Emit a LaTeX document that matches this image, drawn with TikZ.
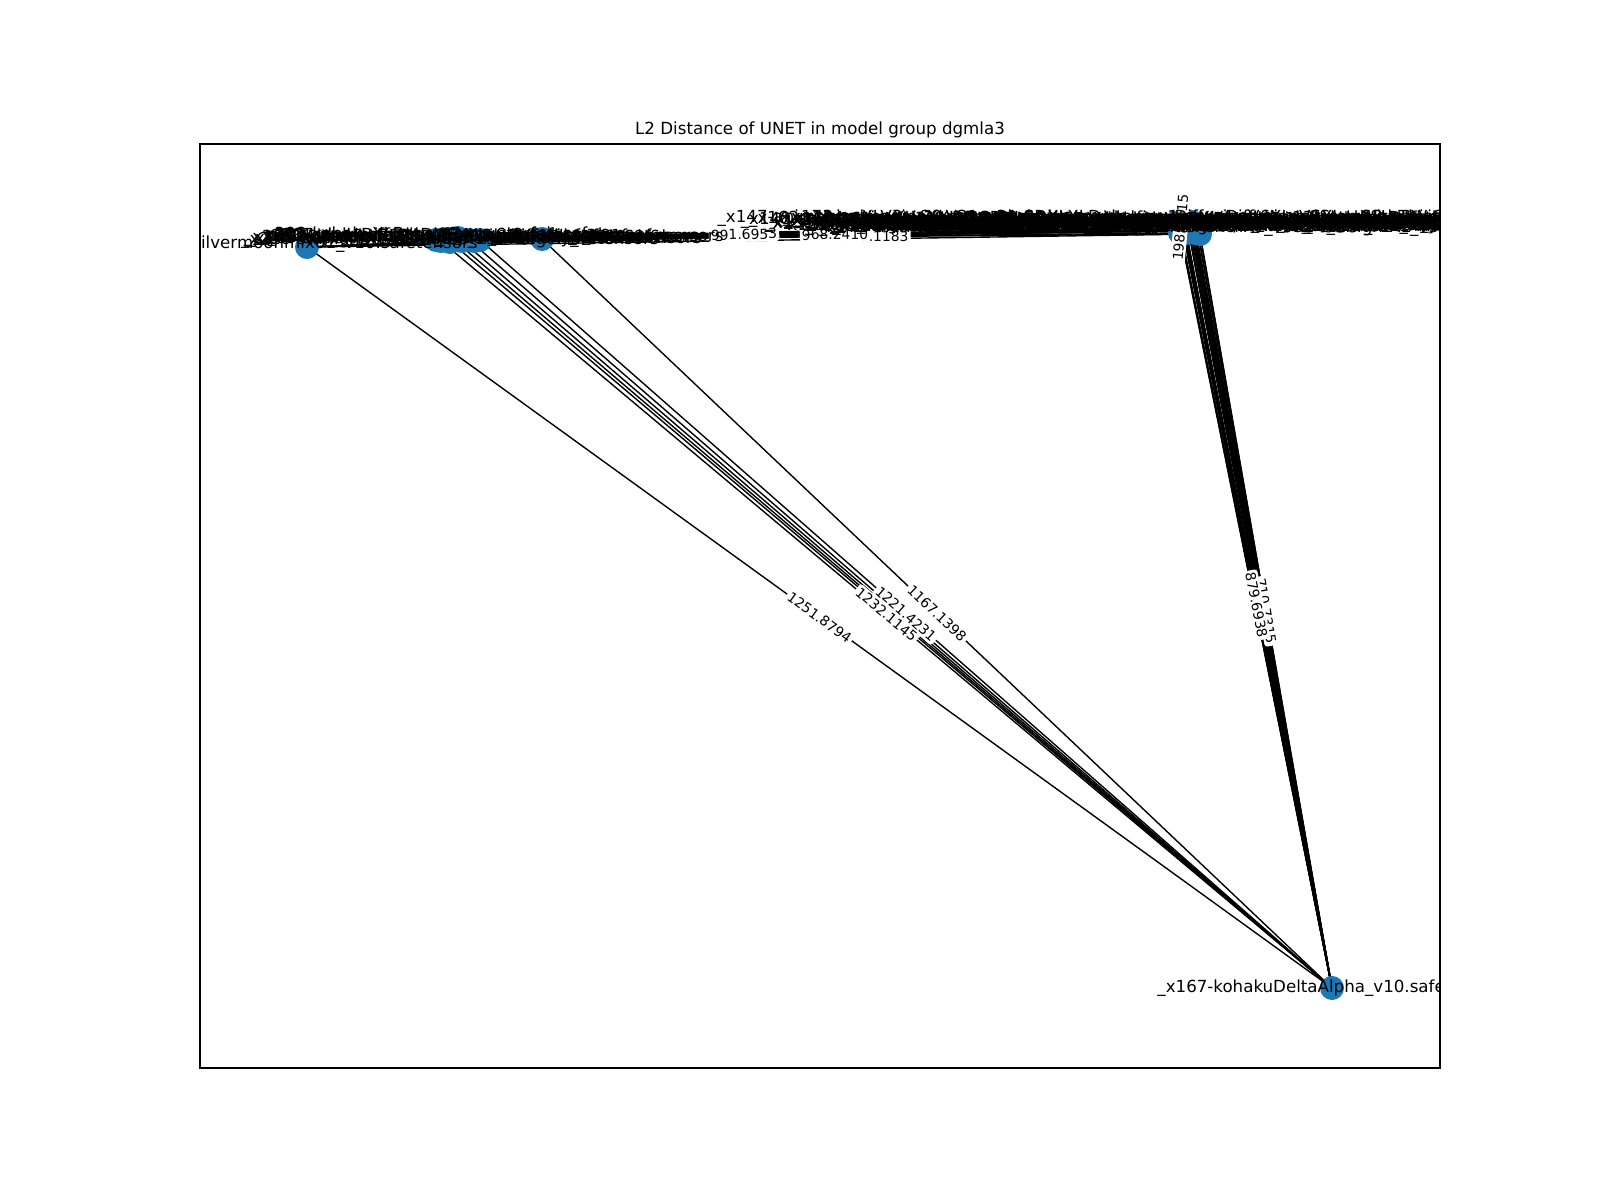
\documentclass[tikz,border=0pt]{standalone}
\usepackage{fontspec}
\setmainfont{DejaVu Sans}
\usetikzlibrary{positioning,calc}
\definecolor{nodeblue}{HTML}{1F77B4}

\begin{document}
\begin{tikzpicture}
[x=0.72pt, y=-0.72pt,
vertex/.style = {circle, fill=nodeblue, inner sep=0pt, minimum size=17.3pt},
lbl/.style = {font=\fontsize{12}{14}\selectfont, inner sep=0pt},
weight/.style = {font=\fontsize{10}{12}\selectfont, fill=white, rounded corners=2pt, inner sep=1.5pt, midway, sloped},
link/.style = {draw, line width=1pt}]
\useasboundingbox (0,0) rectangle (1600,1200);
\node[lbl] (title) at (820,130) {L2 Distance of UNET in model group dgmla3};

\begin{scope}
\clip (200,144) rectangle (1440,1068);
% node positions
\coordinate (K) at (1332,988);
\coordinate (S) at (307,247);
\coordinate (B) at (542,239);
\foreach \i/\px/\py in {1/441/241, 2/454/240, 3/469/240, 4/480/240, 5/447/239,
  6/462/241, 7/436/240, 8/458/238, 9/474/241, 10/450/242}
  \coordinate (A\i) at (\px,\py);
\foreach \i/\px/\py in {1/1181/222, 2/1185/225, 3/1188/227, 4/1180/233, 5/1196/231,
  6/1200/234, 7/1179/224, 8/1183/226, 9/1187/223, 10/1190/229, 11/1193/230,
  12/1185/230, 13/1198/232, 14/1191/224, 15/1178/221, 16/1184/228, 17/1189/232,
  18/1194/226, 19/1197/228, 20/1182/224, 21/1186/233, 22/1192/222, 23/1199/229,
  24/1180/227, 25/1187/221, 26/1195/233, 27/1183/231, 28/1190/225}
  \coordinate (R\i) at (\px,\py);

% edges
\path[link]
(K)edge(S)(K)edge(A1)(K)edge(A2)(K)edge(A3)(K)edge(A4)(K)edge(A5)(K)edge(A6)(K)edge(B)
(S)edge(R1)(S)edge(R3)(S)edge(R6)(S)edge(A1)(S)edge(B)
(A1)edge(R1)(A1)edge(R3)(A2)edge(R2)(A3)edge(R4)(A4)edge(R5)(A4)edge(R10)(A5)edge(R9)(A6)edge(R12)
(B)edge(R1)(B)edge(R5)(B)edge(R6)(A1)edge(B)
(R1)edge(R4)(R1)edge(R5)(R2)edge(R6)(R3)edge(R6)(R7)edge(R13)
;
\foreach \i in {1,...,28}
  \path[link] (K) edge (R\i);

% nodes
\foreach \v in {S,A1,A2,A3,A4,A5,A6,A7,A8,A9,A10,B,K}
  \node[vertex] (n\v) at (\v) {};
\foreach \i in {1,...,28}
  \node[vertex] (nR\i) at (R\i) {};

% edge labels
\path
(K) to node[weight]{1251.8794} (S)
(K) to node[weight]{1221.4231} (A4)
(K) to node[weight]{1232.1145} (A1)
(K) to node[weight]{1167.1398} (B)
(K) to node[weight]{710.7315} (R6)
(K) to node[weight]{879.6938} (R1)
(S) to node[weight]{991.6953} (R1)
(B) to node[weight]{1075.1183} (R6)
(A4) to node[weight]{968.2410} (R10)
(R4) to node[weight]{198.4715} (R1);

% node labels
\node[lbl] (lS) at ($(S)+(0,-3)$) {\_x150-silvermoonmix01\_v10.safetensors};
\node[lbl] (lB) at ($(B)+(0,-2)$) {\_x212-animeIllustDiffusion\_v01.safetensors};
\foreach \i/\ly/\txt in {
  1/236/{\_x201-sdxlUnstableDiffusers\_v8.safetensors},
  2/237/{\_x202-counterfeitxl\_v25-nihilmania.safetensors},
  3/238/{\_x203-juggernautXL\_v9Rundiffusion.safetensors},
  4/237/{\_x204-bluePencilXL\_v031-starlightXL\_v3.safetensors},
  5/238/{\_x205-nekorayxl\_v06W3-sdxl\_anime.safetensors},
  6/237/{\_x206-hassakuXLHentai\_v13-ponyMix.safetensors},
  7/236/{\_x207-ponyDiffusionV6XL\_v6.safetensors},
  8/235/{\_x208-kohakuXLBeta\_v7-counterfeit.safetensors},
  9/239/{\_x209-autismmixSDXL\_autismmixPony\_v2.safetensors},
  10/240/{\_x210-starlightXLAnimated\_v3-merge.safetensors}}
  \node[lbl] (lA\i) at (A\i |- 0,\ly) {\txt};
\foreach \i/\ly/\txt in {
  1/218/{\_x147-animagineXLV3\_v30-merge-kohakuXLDelta\_rev1-ponyDiffusionV6XL\_v6StartWithThisOne-sd.safetensors},
  2/220/{\_x148-animagineXLV31\_v31-SDXL-merge-with-kohakuXLBeta\_v7-and-counterfeitxl\_v25-anime.safetensors},
  3/222/{\_x149-animagineXLV3\_v30-SDXL-lightning-4step-merge-with-bluePencilXL\_v031.safetensors},
  4/224/{\_x151-animagineXLV3\_v30-SDXL-Turbo-merge-kohakuXLGamma\_rev1-juggernautXL\_v9.safetensors},
  5/221/{\_x152-animagineXLV31\_v31-SDXL-mixed-with-ponyDiffusionV6XL-and-autismmixSDXL.safetensors},
  6/225/{\_x153-animagineXL\_v20-SDXL-merge-kohakuXLEpsilon\_rev2-animeIllustDiffusion\_v08.safetensors},
  7/219/{\_x154-animagineXLV3\_v30-SDXL-base-refiner-merge-with-sdxlUnstableDiffusers.safetensors},
  8/223/{\_x155-animagineXLV31\_v31-SDXL-merge-kohakuXLDelta\_rev1-blockweights-in08-out04.safetensors},
  9/226/{\_x156-animagineXL\_v20-SDXL-anime-merge-with-counterfeitxl\_v25-and-bluePencilXL.safetensors},
  10/222/{\_x157-animagineXLV3\_v30-SDXL-dpo-merge-ponyDiffusionV6XL\_v6-te-fixed.safetensors},
  11/227/{\_x158-animagineXLV31\_v31-SDXL-lora-baked-kohakuXLGamma\_rev1-final.safetensors},
  12/224/{\_x159-animagineXL\_v20-SDXL-merge-with-juggernautXL\_v9Rundiffusion.safetensors},
  13/226/{\_x160-animagineXLV3\_v30-SDXL-merge-autismmixSDXL\_autismmixPony-v2.safetensors},
  14/220/{\_x161-animagineXLV31\_v31-SDXL-merge-starlightXLAnimated\_v3-kohakuXL.safetensors},
  15/219/{\_x162-animagineXLV3\_v30-SDXL-merge-with-hassakuXLHentai\_v13-and-nekorayxl\_v06W3.safetensors},
  16/221/{\_x163-animagineXLV31\_v31-SDXL-merge-kohakuXLBeta\_v7-counterfeitxl\_v25.safetensors},
  17/223/{\_x164-animagineXL\_v20-SDXL-blockmerge-ponyDiffusionV6XL\_v6-bluePencilXL.safetensors},
  18/225/{\_x165-animagineXLV3\_v30-SDXL-lightning-8step-merge-juggernautXL\_v9.safetensors},
  19/227/{\_x166-animagineXLV31\_v31-SDXL-merge-starlightXLAnimated\_v3-autismmixPony.safetensors},
  20/220/{\_x168-animagineXL\_v20-SDXL-merge-kohakuXLGamma\_rev1-sdxl\_base\_1.0-refiner.safetensors},
  21/222/{\_x169-animagineXLV3\_v30-SDXL-merge-animeIllustDiffusion\_v08-nihilmania.safetensors},
  22/224/{\_x170-animagineXLV31\_v31-SDXL-dpo-merge-kohakuXLEpsilon\_rev2.safetensors},
  23/226/{\_x171-animagineXL\_v20-SDXL-merge-with-sdxlUnstableDiffusers\_v11.safetensors},
  24/228/{\_x172-animagineXLV3\_v30-SDXL-merge-bluePencilXL\_v031-starlightXL\_v3.safetensors},
  25/218/{\_x173-animagineXLV31\_v31-SDXL-merge-ponyDiffusionV6XL\_v6StartWithThisOne-te.safetensors},
  26/223/{\_x174-animagineXL\_v20-SDXL-merge-hassakuXLHentai\_v13-kohakuXL.safetensors},
  27/225/{\_x175-animagineXLV3\_v30-SDXL-merge-counterfeitxl\_v25-juggernautXL.safetensors},
  28/221/{\_x176-animagineXLV31\_v31-SDXL-merge-autismmixSDXL\_autismmixPony-final.safetensors}}
  \node[lbl] (lR\i) at (R\i |- 0,\ly) {\txt};
\node[lbl] (lK) at (K) {\_x167-kohakuDeltaAlpha\_v10.safetensors};
\end{scope}

\draw[line width=0.8pt] (200,144) rectangle (1440,1068);
\end{tikzpicture}
\end{document}
